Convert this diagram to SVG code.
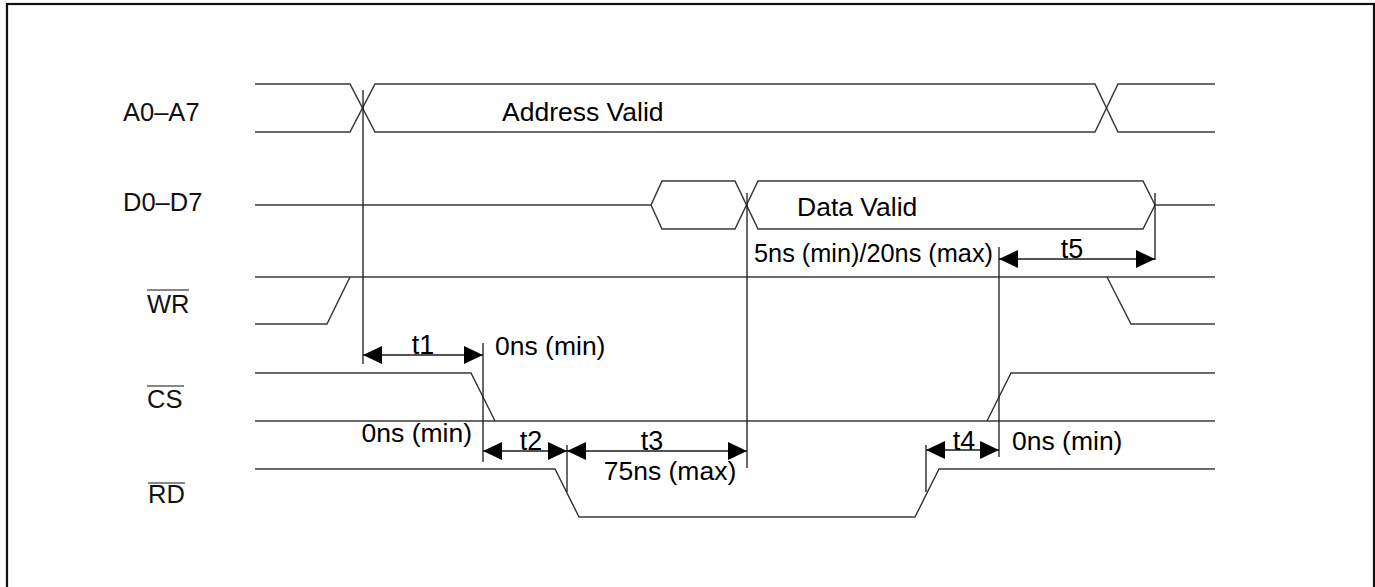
<svg xmlns="http://www.w3.org/2000/svg" width="1375" height="587" viewBox="0 0 1375 587">
<style>
.sig{fill:none;stroke:#3a3a3a;stroke-width:1.5;stroke-linejoin:miter}
.ref{fill:none;stroke:#1a1a1a;stroke-width:1.3}
.dim{fill:none;stroke:#1a1a1a;stroke-width:1.3;marker-start:url(#ah);marker-end:url(#ah)}
.lbl{font-family:"Liberation Sans",Arial,sans-serif;font-size:25.5px;fill:#111}
.txt{font-family:"Liberation Sans",Arial,sans-serif;font-size:26.5px;fill:#000}
.tn{font-family:"Liberation Sans",Arial,sans-serif;font-size:27px;fill:#000}
.ov{stroke:#111;stroke-width:1.2}
</style>
<defs>
<marker id="ah" markerUnits="userSpaceOnUse" markerWidth="19" markerHeight="18" viewBox="0 0 19 18" refX="19" refY="9" orient="auto-start-reverse">
<path d="M0,0 L19,9 L0,18 Z" fill="#000"/>
</marker>
</defs>
<rect x="7" y="4" width="1367" height="640" fill="#fff" stroke="#111" stroke-width="2.2"/>

<g id="label-a">
<text class="lbl" x="123" y="121">A0–A7</text>
</g>
<g id="label-d">
<text class="lbl" x="123" y="211">D0–D7</text>
</g>
<g id="label-wr">
<text class="lbl" x="147" y="313">WR</text>
<line class="ov" x1="147" y1="290" x2="189" y2="290"/>
</g>
<g id="label-cs">
<text class="lbl" x="147" y="408">CS</text>
<line class="ov" x1="147" y1="386" x2="184" y2="386"/>
</g>
<g id="label-rd">
<text class="lbl" x="148" y="503">RD</text>
<line class="ov" x1="148" y1="483" x2="185" y2="483"/>
</g>

<g id="sig-a">
<path class="sig" d="M255,84 H350 L375,132 H1095 L1118,84 H1215"/>
<path class="sig" d="M255,132 H350 L375,84 H1095 L1118,132 H1215"/>
<text class="txt" x="502" y="121">Address Valid</text>
</g>
<g id="sig-d">
<path class="sig" d="M255,205 H651 L662,181 H735 L758,229 H1143 L1155,205 H1215"/>
<path class="sig" d="M651,205 L662,229 H735 L758,181 H1143 L1155,205"/>
<text class="txt" x="797" y="216">Data Valid</text>
</g>
<g id="sig-wr">
<path class="sig" d="M255,277 H1215"/>
<path class="sig" d="M255,324 H327 L350,277"/>
<path class="sig" d="M1107,277 L1131,324 H1215"/>
</g>
<g id="sig-cs">
<path class="sig" d="M255,373 H471 L495,421"/>
<path class="sig" d="M255,421 H1215"/>
<path class="sig" d="M987,421 L1011,373 H1215"/>
</g>
<g id="sig-rd">
<path class="sig" d="M255,469 H555 L579,517 H915 L939,469 H1215"/>
</g>

<g id="connectors">
<line class="ref" x1="363" y1="90" x2="363" y2="364"/>
<line class="ref" x1="483" y1="343" x2="483" y2="462"/>
<line class="ref" x1="747" y1="193" x2="747" y2="468"/>
<line class="ref" x1="567" y1="445" x2="567" y2="492"/>
<line class="ref" x1="926" y1="445" x2="926" y2="492"/>
<line class="ref" x1="999" y1="247" x2="999" y2="457"/>
<line class="ref" x1="1155" y1="193" x2="1155" y2="260"/>
<line class="dim" x1="363" y1="355" x2="483" y2="355"/>
<line class="dim" x1="483" y1="451" x2="567" y2="451"/>
<line class="dim" x1="567" y1="451" x2="747" y2="451"/>
<line class="dim" x1="926" y1="450" x2="999" y2="450"/>
<line class="dim" x1="999" y1="259" x2="1155" y2="259"/>
</g>

<g id="timing-labels">
<text class="tn" x="423" y="354" text-anchor="middle">t1</text>
<text class="txt" x="495" y="355">0ns (min)</text>
<text class="tn" x="531" y="450" text-anchor="middle">t2</text>
<text class="txt" x="472" y="442" text-anchor="end">0ns (min)</text>
<text class="tn" x="652" y="450" text-anchor="middle">t3</text>
<text class="txt" x="670" y="480" text-anchor="middle">75ns (max)</text>
<text class="tn" x="964" y="450" text-anchor="middle">t4</text>
<text class="txt" x="1012" y="450">0ns (min)</text>
<text class="tn" x="1072" y="258" text-anchor="middle">t5</text>
<text class="txt" x="754" y="262" textLength="239" lengthAdjust="spacingAndGlyphs">5ns (min)/20ns (max)</text>
</g>
</svg>
